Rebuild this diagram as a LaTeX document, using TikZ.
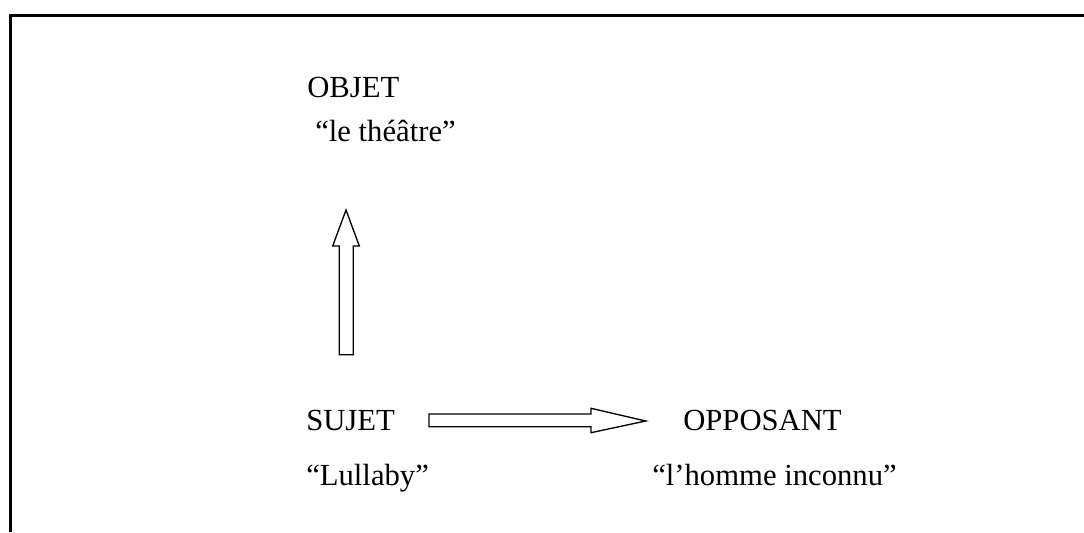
\documentclass[tikz,border=0pt]{standalone}
\usepackage{fontspec}
\setmainfont{Liberation Serif}
\begin{document}
\begin{tikzpicture}[x=0.75pt,y=0.75pt,
    lbl/.style={anchor=base west,inner sep=0pt,font=\fontsize{23}{27}\selectfont},
    blockarrow/.style={draw,line width=1pt,fill=white,line join=miter}]
        \useasboundingbox (0,0) rectangle (1084,532);
        %% Frame
        \draw[line width=2.25pt] (10.5,0) -- (10.5,516.5) -- (1084,516.5);
        %% Labels
        \node[lbl] (O) at (307,434) {OBJET};
        \node[lbl] (Ot) at (315,390) {“le théâtre”};
        \node[lbl] (S) at (306,101.3) {SUJET};
        \node[lbl] (St) at (306,47) {“Lullaby”};
        \node[lbl] (A) at (683,101.3) {OPPOSANT};
        \node[lbl] (At) at (652,47) {“l’homme inconnu”};
        %% Arrows
        \coordinate (U) at (346.3,177.3);
        \coordinate (R) at (429,111.6);
        \draw[blockarrow] (U) ++(-7,0) -- ++(0,108.7) -- ++(-6.6,0) -- (346,322)
            -- (359.3,286) -- (353.3,286) -- (353.3,177.3) -- cycle;
        \draw[blockarrow] (R) ++(0,6.4) -- (591,118) -- (591,123.7) -- (645.7,111)
            -- (591,99.3) -- (591,105.3) -- (429,105.3) -- cycle;
\end{tikzpicture}
\end{document}
